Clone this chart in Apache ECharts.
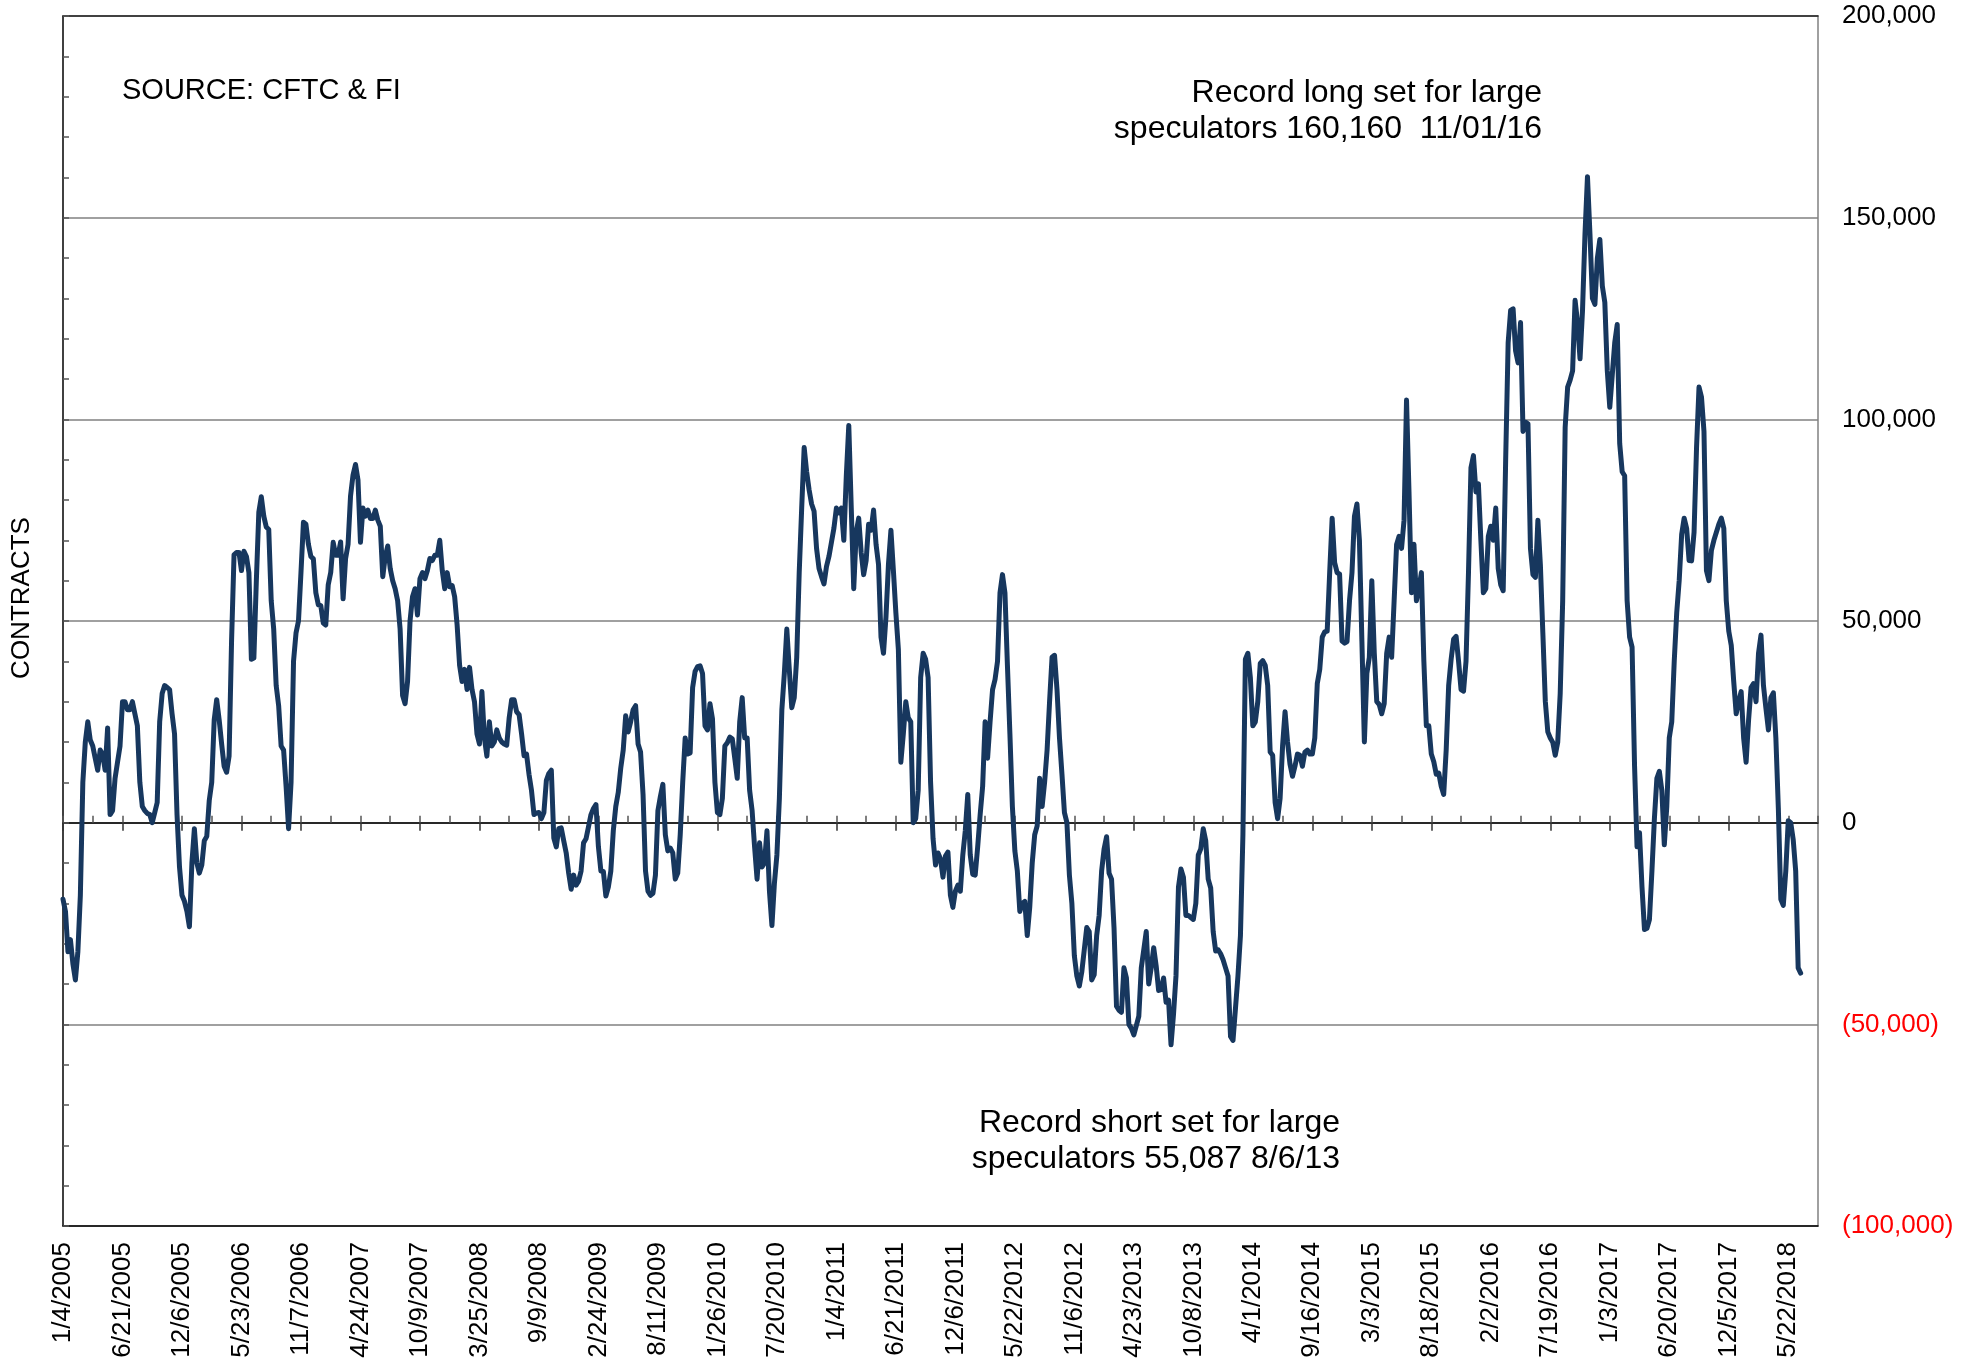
<!DOCTYPE html>
<html>
<head>
<meta charset="utf-8">
<script src="https://cdn.jsdelivr.net/npm/echarts@6/dist/echarts.min.js"></script>
<style>
  html, body { margin: 0; padding: 0; background: #fff; }
  #chart { width: 1975px; height: 1364px; }
</style>
</head>
<body>
<div id="chart"></div>
<script>
// tick labels shown every 24 weeks on the category axis
const dateLabels = [
  '1/4/2005', '6/21/2005', '12/6/2005', '5/23/2006', '11/7/2006', '4/24/2007',
  '10/9/2007', '3/25/2008', '9/9/2008', '2/24/2009', '8/11/2009', '1/26/2010',
  '7/20/2010', '1/4/2011', '6/21/2011', '12/6/2011', '5/22/2012', '11/6/2012',
  '4/23/2013', '10/8/2013', '4/1/2014', '9/16/2014', '3/3/2015', '8/18/2015',
  '2/2/2016', '7/19/2016', '1/3/2017', '6/20/2017', '12/5/2017', '5/22/2018'
];

// weekly net position of large speculators (contracts)
const netPosition = [
  -19000, -22000, -32000, -29000, -35000, -39000, -32000, -18000, 10000, 20000,
  25000, 20500, 19000, 16000, 13000, 18000, 17000, 13000, 23500, 2000,
  3000, 11000, 15000, 19000, 30000, 30000, 28000, 28000, 30000, 27000,
  24000, 10000, 4000, 3000, 2300, 2000, 0, 2500, 5000, 25000,
  32000, 34000, 33500, 33000, 27000, 22000, 2000, -11000, -18000, -19500,
  -22000, -25800, -10000, -1500, -10000, -12500, -10500, -4500, -3400, 5500,
  10000, 25500, 30500, 25500, 19500, 14000, 12500, 16500, 45000, 66400,
  67000, 67000, 62500, 67300, 66000, 62000, 40500, 40800, 60000, 77000,
  80800, 76000, 73300, 72700, 55000, 48000, 34000, 29000, 19000, 18000,
  9000, -1500, 10000, 40000, 47000, 50000, 62000, 74500, 74000, 69000,
  66000, 65400, 57000, 54000, 53800, 49500, 49000, 59000, 62000, 69500,
  66300, 66300, 69600, 55500, 65500, 69000, 81000, 86200, 88800, 85000,
  69500, 78000, 76000, 77500, 75400, 75400, 77500, 75000, 73500, 61000,
  66000, 68600, 63000, 60000, 58000, 55000, 48000, 31500, 29500, 35000,
  50000, 56000, 58000, 51500, 60500, 62000, 60500, 62500, 65500, 65000,
  66300, 66300, 70000, 62500, 58000, 62000, 58500, 58800, 56000, 49000,
  39000, 35000, 38000, 33000, 38500, 33000, 30000, 22000, 19500, 32500,
  21000, 16500, 25000, 19000, 20000, 23000, 21000, 20000, 19500, 19200,
  26000, 30500, 30500, 27500, 26800, 22000, 16600, 17000, 12000, 8000,
  2000, 2400, 2500, 1000, 2500, 10500, 12200, 13000, -3800, -6000,
  -1500, -1300, -4500, -7500, -12500, -16500, -13000, -15500, -14500, -12000,
  -5000, -4000, -1000, 2000, 3500, 4500, -6000, -12000, -12100, -18200,
  -16000, -12000, -2000, 4000, 7500, 13500, 18000, 26500, 22500, 25000,
  28000, 29000, 19500, 17500, 7000, -12000, -17000, -18000, -17500, -13000,
  3000, 6500, 9500, -3000, -7000, -6300, -7500, -14000, -12500, -3000,
  10000, 21000, 17000, 17300, 33500, 37500, 38700, 38900, 37000, 24000,
  23000, 29500, 25800, 10000, 2500, 2000, 6000, 19000, 19800, 21200,
  20800, 16000, 11000, 25000, 31000, 21000, 21000, 8000, 3000, -6000,
  -14000, -5000, -11000, -10000, -2000, -17000, -25500, -15000, -8000, 6000,
  28000, 37000, 48000, 38000, 28500, 31000, 41000, 62000, 78000, 93000,
  87000, 82500, 79000, 77200, 68000, 63000, 61000, 59200, 63500, 66000,
  69500, 73000, 78000, 76800, 78000, 70000, 86000, 98500, 78000, 58000,
  72000, 75500, 67000, 61500, 65000, 74000, 72500, 77500, 69000, 64000,
  46000, 42000, 51000, 64000, 72500, 62500, 52000, 43000, 15000, 22000,
  30000, 26000, 25000, 0, 1000, 8000, 36000, 42000, 40500, 36000,
  10000, -4000, -10500, -7500, -9000, -13500, -8300, -7300, -18000, -21000,
  -17000, -15500, -17000, -8000, -2000, 7000, -8000, -12800, -13000, -6000,
  2000, 9000, 25000, 16000, 25000, 33000, 35500, 40000, 57000, 61500,
  57000, 39000, 22000, 4000, -7000, -12000, -22000, -20000, -19500, -28000,
  -21000, -10000, -3000, -800, 11000, 4000, 10000, 18000, 30000, 41000,
  41500, 33000, 21000, 12000, 2500, 0, -13000, -20000, -33000, -38000,
  -40500, -37000, -31500, -26000, -27000, -39000, -37700, -28000, -23000, -12000,
  -6500, -3500, -12500, -14000, -26000, -45500, -46500, -47000, -36000, -38500,
  -50000, -51000, -52600, -50300, -48000, -36000, -31500, -27000, -40000, -36000,
  -31000, -35500, -41600, -41400, -38500, -44500, -44000, -55087, -47500, -38000,
  -16000, -11500, -13500, -23000, -23000, -23500, -24000, -20000, -8000, -6500,
  -1500, -4500, -14000, -16200, -27000, -31800, -31500, -32500, -34000, -36000,
  -38000, -53000, -54000, -46000, -38000, -28000, -3000, 40500, 42000, 36000,
  24000, 25000, 30000, 39500, 40200, 39000, 34000, 17500, 16700, 5000,
  1000, 6000, 19000, 27500, 20000, 14500, 11500, 14000, 17000, 16700,
  14000, 17500, 18000, 17000, 17000, 21000, 34500, 38000, 46000, 47300,
  47500, 62000, 75500, 64500, 62000, 61600, 45000, 44500, 44900, 55000,
  62000, 76000, 79000, 70000, 45000, 20000, 37000, 41000, 60000, 42000,
  30000, 29300, 27000, 29500, 42000, 46000, 41000, 55000, 69000, 71000,
  68000, 75000, 104800, 82000, 57000, 69000, 55000, 58000, 62000, 40000,
  24000, 24000, 17000, 15100, 12000, 12300, 9000, 7000, 18000, 34000,
  40500, 45500, 46200, 40000, 33000, 32600, 40000, 62000, 88000, 91000,
  82000, 84000, 70000, 57000, 58000, 71000, 73500, 70000, 78000, 63000,
  59000, 57500, 90000, 119000, 127000, 127400, 117000, 114000, 124000, 97000,
  99300, 98900, 68000, 61500, 60800, 75000, 64000, 47000, 30000, 22500,
  21000, 19900, 16700, 19900, 32000, 55000, 98000, 108000, 109700, 112000,
  129500, 124000, 115000, 127000, 146000, 160160, 146000, 130000, 128500, 140000,
  144600, 133000, 129000, 112000, 103000, 111000, 119000, 123500, 94000, 87000,
  86000, 55000, 46000, 43500, 14000, -6000, -2500, -16000, -26500, -26200,
  -24000, -12000, 1000, 11000, 12700, 8000, -5500, 4000, 21000, 25000,
  40000, 52000, 60000, 71500, 75500, 73000, 65000, 64900, 72000, 93000,
  108000, 105500, 97000, 62500, 60000, 67500, 70000, 72000, 74000, 75500,
  73000, 55000, 47500, 44000, 35000, 27000, 30000, 32500, 21000, 15000,
  25500, 33500, 34500, 30000, 42000, 46500, 34000, 28300, 23000, 31000,
  32200, 21000, 3600, -19000, -20500, -12000, 500, 0, -4200, -12000,
  -36000, -37300
];

const weekCount = 709; // category slots on the axis (a few blank weeks at the end)
const labelEvery = 24;
const categories = [];
for (let i = 0; i < weekCount; i++) {
  categories.push(i % labelEvery === 0 ? dateLabels[i / labelEvery] : 'wk' + i);
}

const FONT = 'Liberation Sans, Arial, Helvetica, sans-serif';

function fmtNumber(v) {
  const s = Math.abs(v).toLocaleString('en-US');
  return v < 0 ? '(' + s + ')' : s;
}

const chart = echarts.init(document.getElementById('chart'), null, { renderer: 'canvas' });

const xBase = {
  type: 'category',
  data: categories,
  boundaryGap: false,
  splitLine: { show: false }
};

chart.setOption({
  animation: false,
  backgroundColor: '#fff',
  textStyle: { fontFamily: FONT },
  grid: { left: 63, right: 157, top: 16, bottom: 138, containLabel: false, outerBoundsMode: 'none' },
  xAxis: [
    // bottom frame + date labels
    Object.assign({}, xBase, {
      position: 'bottom',
      axisLine: { onZero: false, lineStyle: { color: '#000', width: 1.5 } },
      axisTick: { show: false },
      axisLabel: {
        interval: labelEvery - 1,
        rotate: 90,
        margin: 16,
        fontSize: 26,
        color: '#000',
        fontFamily: FONT,
        formatter: (v, idx) => (idx % labelEvery === 0 ? dateLabels[idx / labelEvery] : '')
      }
    }),
    // zero line with short ticks every 12 weeks
    Object.assign({}, xBase, {
      position: 'bottom',
      axisLine: { onZero: true, onZeroAxisIndex: 0, lineStyle: { color: '#000', width: 1.5 } },
      axisTick: { show: true, inside: true, interval: 11, length: 7, lineStyle: { color: '#555', width: 1.5 } },
      axisLabel: { show: false }
    }),
    // longer ticks below the zero line every 24 weeks
    Object.assign({}, xBase, {
      position: 'bottom',
      axisLine: { show: false, onZero: true, onZeroAxisIndex: 0 },
      axisTick: { show: true, inside: false, interval: labelEvery - 1, length: 8, lineStyle: { color: '#333', width: 1.5 } },
      axisLabel: { show: false }
    }),
    // top frame
    Object.assign({}, xBase, {
      position: 'top',
      axisLine: { onZero: false, lineStyle: { color: '#222', width: 1.5 } },
      axisTick: { show: false },
      axisLabel: { show: false }
    })
  ],
  yAxis: [
    {
      type: 'value',
      position: 'left',
      min: -100000,
      max: 200000,
      interval: 10000,
      axisLine: { show: true, onZero: false, lineStyle: { color: '#000', width: 1.5 } },
      axisTick: { show: true, inside: true, length: 6, lineStyle: { color: '#555', width: 1.5 } },
      axisLabel: { show: false },
      splitLine: { show: false }
    },
    {
      type: 'value',
      position: 'right',
      min: -100000,
      max: 200000,
      interval: 50000,
      axisLine: { show: true, onZero: false, lineStyle: { color: '#808080', width: 1.5 } },
      axisTick: { show: false },
      axisLabel: {
        margin: 24,
        fontSize: 26,
        fontFamily: FONT,
        formatter: fmtNumber,
        color: (v) => (Number(v) < 0 ? '#ff0000' : '#000')
      },
      splitLine: { show: true, lineStyle: { color: '#808080', width: 1.5 } }
    }
  ],
  series: [
    {
      name: 'Large speculators net',
      type: 'line',
      xAxisIndex: 0,
      yAxisIndex: 0,
      data: netPosition,
      showSymbol: false,
      symbol: 'none',
      lineStyle: { color: '#17375e', width: 5, join: 'round', cap: 'round' },
      z: 5
    }
  ],
  graphic: [
    {
      type: 'text',
      x: 22,
      y: 598,
      rotation: Math.PI / 2,
      style: { text: 'CONTRACTS', font: '26px ' + FONT, fill: '#000', align: 'center', verticalAlign: 'middle' }
    },
    {
      type: 'text',
      x: 122,
      y: 76,
      style: { text: 'SOURCE: CFTC & FI', font: '29px ' + FONT, fill: '#000', verticalAlign: 'top' }
    },
    {
      type: 'text',
      x: 1542,
      y: 75,
      style: {
        text: 'Record long set for large\nspeculators 160,160  11/01/16',
        font: '32px ' + FONT,
        fill: '#000',
        align: 'right',
        verticalAlign: 'top',
        lineHeight: 36
      }
    },
    {
      type: 'text',
      x: 1340,
      y: 1105,
      style: {
        text: 'Record short set for large\nspeculators 55,087 8/6/13',
        font: '32px ' + FONT,
        fill: '#000',
        align: 'right',
        verticalAlign: 'top',
        lineHeight: 36
      }
    }
  ]
});
</script>
</body>
</html>
